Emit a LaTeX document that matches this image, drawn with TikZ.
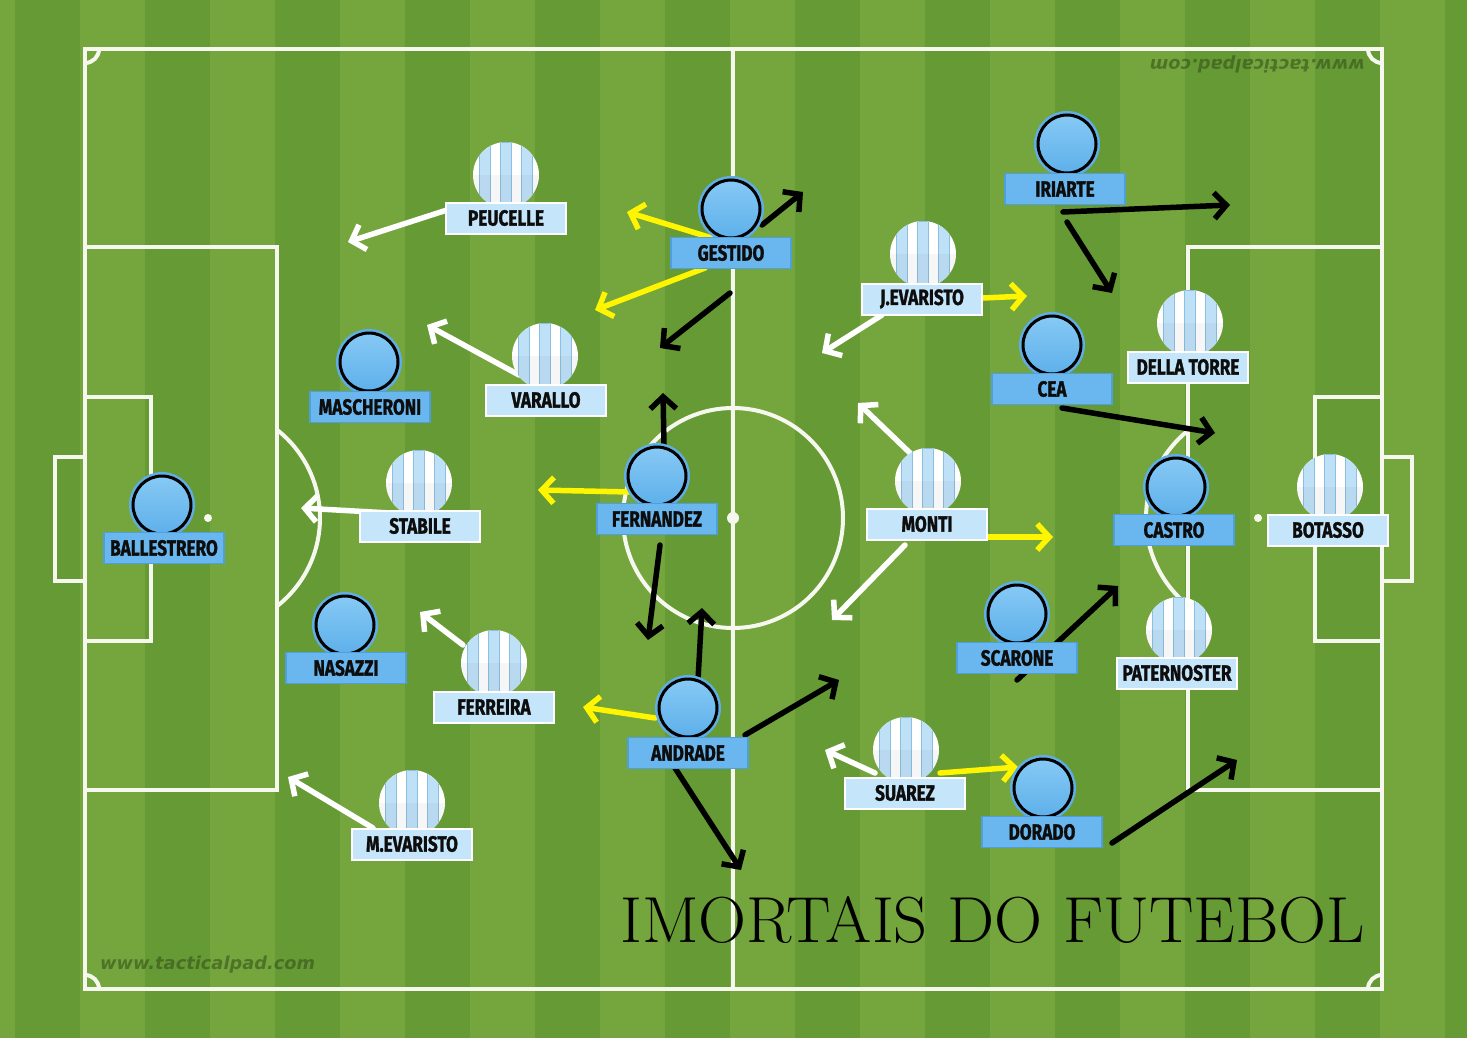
\documentclass[tikz,border=0pt]{standalone}
\usepackage{fontspec}
\usetikzlibrary{arrows.meta,calc}
\newfontfamily\plfam{Fira Sans}[FakeStretch=0.78,BoldFeatures={FakeBold=1.2}]
\newfontfamily\wmfam{DejaVu Sans}
\newcommand\plabfont{\plfam\bfseries\fontsize{22}{22}\selectfont}
\definecolor{grassL}{HTML}{75A63D}
\definecolor{grassD}{HTML}{669A34}
\definecolor{lineW}{HTML}{F6F8F0}
\definecolor{solTop}{HTML}{86C9F5}
\definecolor{solBot}{HTML}{5EB0EA}
\definecolor{ringB}{HTML}{5FAEE6}
\definecolor{labB}{HTML}{6AB7EF}
\definecolor{labBd}{HTML}{4E9FDA}
\definecolor{labL}{HTML}{C4E5FA}
\definecolor{stripeB}{HTML}{BFE1F8}
\definecolor{stripeE}{HTML}{8CBEDF}
\definecolor{arrY}{HTML}{FFF500}
\definecolor{wmark}{HTML}{2F4A17}
\pgfdeclarelayer{pitch}
\pgfdeclarelayer{arrows}
\pgfsetlayers{pitch,arrows,main}
\tikzset{
  pline/.style={draw=lineW, line width=4},
  mvarrow/.style={line width=5.5, line cap=round, -{Straight Barb[length=12pt,width=26pt]}},
  wa/.style={mvarrow, draw=white},
  ya/.style={mvarrow, draw=arrY},
  ka/.style={mvarrow, draw=black},
  solidc/.style={circle, inner sep=0pt, minimum size=58pt, draw=black, line width=3pt,
    top color=solTop, bottom color=solBot, preaction={draw=ringB, line width=8pt}},
  stripec/.style={circle, inner sep=0pt, minimum size=66pt, fill=white,
    path picture={
      \foreach \dx in {-21,0,21}{
        \fill[stripeB, draw=stripeE, line width=0.6pt]
          ([xshift=\dx pt-5.5pt]path picture bounding box.south) rectangle
          ([xshift=\dx pt+5.5pt]path picture bounding box.north);}
      \fill[black, opacity=0.035] (path picture bounding box.west) rectangle (path picture bounding box.south east);
    }},
  labbase/.style={rectangle, inner sep=0pt, minimum width=120pt, minimum height=31pt,
    font=\plabfont, text=black!95},
  solidl/.style={labbase, fill=labB, draw=labBd, line width=1.2pt},
  stripel/.style={labbase, fill=labL, draw=white, line width=2pt},
  wmtext/.style={text=wmark, opacity=0.55, inner sep=0pt}
}
\newcommand\solidp[4]{%
  \node[solidc] (#1) at (#2) {};
  \node[solidl] (#1-l) at (#3) {#4};}
\newcommand\stripep[4]{%
  \node[stripec] (#1) at (#2) {};
  \node[stripel] (#1-l) at (#3) {#4};}
\begin{document}
\begin{tikzpicture}[x=1pt,y=-1pt]
\useasboundingbox (0,0) rectangle (1467,1038);
\begin{pgfonlayer}{pitch}
  \begin{scope}
    \clip (0,0) rectangle (1467,1038);
    \fill[grassL] (0,0) rectangle (1467,1038);
    \foreach \k in {-1,...,11}{
      \fill[grassD] ({15+130*\k},0) rectangle ({80+130*\k},1038);}
  \end{scope}
  % outer lines
  \draw[pline] (85,49) rectangle (1382,989);
  \draw[pline] (733,49) -- (733,989);
  \draw[pline] (733,518) circle[radius=110];
  \fill[lineW] (733,518) circle[radius=6];
  % left side
  \draw[pline] (85,247) rectangle (277,790);
  \draw[pline] (85,397) rectangle (151,641);
  \draw[pline] (85,457) -- (55,457) -- (55,581) -- (85,581);
  \fill[lineW] (208,518) circle[radius=4];
  \begin{scope}
    \clip (277,300) rectangle (420,740);
    \draw[pline] (208,518) circle[radius=112];
  \end{scope}
  % right side
  \draw[pline] (1188,247) rectangle (1382,790);
  \draw[pline] (1315,397) rectangle (1382,641);
  \draw[pline] (1382,457) -- (1412,457) -- (1412,581) -- (1382,581);
  \fill[lineW] (1258,518) circle[radius=4];
  \begin{scope}
    \clip (1050,300) rectangle (1188,740);
    \draw[pline] (1258,518) circle[radius=112];
  \end{scope}
  % corner arcs
  \begin{scope}
    \clip (85,49) rectangle (1382,989);
    \draw[pline] (85,49) circle[radius=14];
    \draw[pline] (1382,49) circle[radius=14];
    \draw[pline] (85,989) circle[radius=14];
    \draw[pline] (1382,989) circle[radius=14];
  \end{scope}
  % watermarks
  \node[wmtext, anchor=south west] (wm1) at (100,973)
    {\resizebox{215pt}{!}{\wmfam\bfseries\itshape www.tacticalpad.com}};
  \node[wmtext, anchor=south west, rotate=180] (wm2) at (1365,56)
    {\resizebox{215pt}{!}{\wmfam\bfseries\itshape www.tacticalpad.com}};
  % title
  \node[inner sep=0pt, anchor=south west, text=black] (title) at (620,944)
    {\resizebox{745pt}{46pt}{\fontsize{66}{66}\selectfont IMORTAIS DO FUTEBOL}};
\end{pgfonlayer}

% players: solid team
\solidp{gestido}{731,209}{731,253}{GESTIDO}
\solidp{iriarte}{1067,144}{1065,189}{IRIARTE}
\solidp{cea}{1052,345}{1052,389}{CEA}
\solidp{mascheroni}{369,362}{370,407}{MASCHERONI}
\solidp{fernandez}{657,476}{657,519}{FERNANDEZ}
\solidp{ballestrero}{162,505}{164,548}{BALLESTRERO}
\solidp{castro}{1176,487}{1174,530}{CASTRO}
\solidp{nasazzi}{345,625}{346,668}{NASAZZI}
\solidp{andrade}{688,708}{688,753}{ANDRADE}
\solidp{scarone}{1017,614}{1017,658}{SCARONE}
\solidp{dorado}{1043,788}{1042,832}{DORADO}
% players: striped team
\stripep{peucelle}{506,175}{506,218}{PEUCELLE}
\stripep{varallo}{545,356}{546,400}{VARALLO}
\stripep{jevaristo}{923,254}{922,299}{J.EVARISTO}
\stripep{dellatorre}{1190,323}{1188,367}{DELLA TORRE}
\stripep{stabile}{419,483}{420,526}{STABILE}
\stripep{monti}{928,481}{927,524}{MONTI}
\stripep{botasso}{1330,487}{1328,530}{BOTASSO}
\stripep{paternoster}{1179,630}{1177,673}{PATERNOSTER}
\stripep{ferreira}{494,663}{494,707}{FERREIRA}
\stripep{mevaristo}{412,803}{412,844}{M.EVARISTO}
\stripep{suarez}{906,750}{905,793}{SUAREZ}

% arrow start and end coordinates
\coordinate (w1s) at (447,210);  \coordinate (w1e) at (348,242);
\coordinate (w2s) at (519,375);  \coordinate (w2e) at (427,325);
\coordinate (w3s) at (390,513);  \coordinate (w3e) at (301,508);
\coordinate (w4s) at (463,645);  \coordinate (w4e) at (420,612);
\coordinate (w5s) at (373,828);  \coordinate (w5e) at (288,777);
\coordinate (w6s) at (882,315);  \coordinate (w6e) at (822,353);
\coordinate (w7s) at (910,453);  \coordinate (w7e) at (858,403);
\coordinate (w8s) at (905,545);  \coordinate (w8e) at (832,620);
\coordinate (w9s) at (875,773);  \coordinate (w9e) at (825,750);
\coordinate (y1s) at (712,238);  \coordinate (y1e) at (627,212);
\coordinate (y2s) at (705,268);  \coordinate (y2e) at (595,310);
\coordinate (y3s) at (983,298);  \coordinate (y3e) at (1027,296);
\coordinate (y4s) at (630,492);  \coordinate (y4e) at (538,490);
\coordinate (y5s) at (962,537);  \coordinate (y5e) at (1053,537);
\coordinate (y6s) at (655,718);  \coordinate (y6e) at (583,707);
\coordinate (y7s) at (940,773);  \coordinate (y7e) at (1018,767);
\coordinate (k1s) at (762,225);  \coordinate (k1e) at (803,192);
\coordinate (k2s) at (730,293);  \coordinate (k2e) at (660,348);
\coordinate (k3s) at (664,445);  \coordinate (k3e) at (663,393);
\coordinate (k4s) at (660,545);  \coordinate (k4e) at (648,640);
\coordinate (k5s) at (698,680);  \coordinate (k5e) at (702,608);
\coordinate (k6s) at (745,735);  \coordinate (k6e) at (839,680);
\coordinate (k7s) at (675,768);  \coordinate (k7e) at (741,870);
\coordinate (k8s) at (1063,212); \coordinate (k8e) at (1230,205);
\coordinate (k9s) at (1067,222); \coordinate (k9e) at (1112,293);
\coordinate (k10s) at (1062,408); \coordinate (k10e) at (1215,433);
\coordinate (k11s) at (1017,680); \coordinate (k11e) at (1118,586);
\coordinate (k12s) at (1112,843); \coordinate (k12e) at (1237,760);

\begin{pgfonlayer}{arrows}
  \foreach \i in {1,...,9}{\draw[wa] (w\i s) -- (w\i e);}
  \foreach \i in {1,...,7}{\draw[ya] (y\i s) -- (y\i e);}
  \foreach \i in {1,...,12}{\draw[ka] (k\i s) -- (k\i e);}
\end{pgfonlayer}
\end{tikzpicture}
\end{document}
